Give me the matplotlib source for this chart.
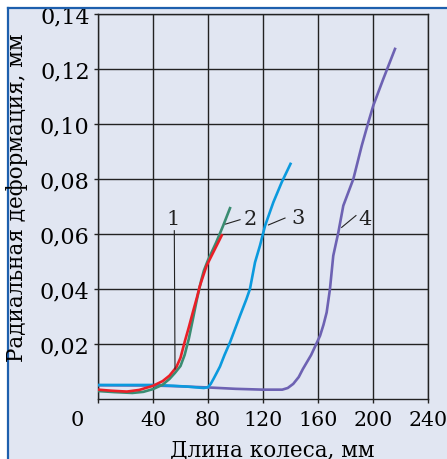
import matplotlib
matplotlib.use("Agg")
import matplotlib.pyplot as plt
from matplotlib.lines import Line2D

plt.rcParams['font.family'] = ['DejaVu Serif']

# curve 1 (red)
x1 = [0, 10, 21, 30, 40, 47, 52, 57, 60, 63, 66, 69, 72, 74, 77, 79, 83, 87, 90]
y1 = [0.0034, 0.0030, 0.0027, 0.0033, 0.0048, 0.0065, 0.0085, 0.0116, 0.0150, 0.0207, 0.0260,
      0.0316, 0.0370, 0.0410, 0.0455, 0.0485, 0.0525, 0.0565, 0.0595]
# curve 2 (green)
x2 = [0, 12, 25, 33, 40, 47, 52, 56, 60, 63, 66, 69, 72, 75, 77, 80, 86, 91, 96]
y2 = [0.0029, 0.0025, 0.0022, 0.0026, 0.0036, 0.0052, 0.0073, 0.0095, 0.0120, 0.0160, 0.0218,
      0.0290, 0.0364, 0.0430, 0.0467, 0.0505, 0.0570, 0.0630, 0.0694]
# curve 3 (blue)
x3 = [0, 20, 40, 55, 65, 72, 77, 80, 82, 84, 86, 88.7, 92, 96, 103.3, 108, 110.5, 114.2, 117.8,
      121.5, 127.5, 133.6, 140]
y3 = [0.0051, 0.0051, 0.0051, 0.0048, 0.0045, 0.0042, 0.0040, 0.0043, 0.0055, 0.0073, 0.0092,
      0.0118, 0.0160, 0.0206, 0.0303, 0.0364, 0.0400, 0.0497, 0.0558, 0.0630, 0.0715, 0.0788,
      0.0855]
# curve 4 (purple)
x4 = [0, 40, 60, 80, 100, 120, 134, 138, 142, 146, 149, 155, 161.5, 164, 166.3, 168.7, 171.1,
      174.8, 178.4, 185.7, 191.8, 196.6, 200.2, 207.5, 216]
y4 = [0.0050, 0.0049, 0.0046, 0.0042, 0.0037, 0.0034, 0.0034, 0.0040, 0.0055, 0.0080, 0.0109,
      0.0160, 0.0230, 0.0270, 0.0315, 0.0400, 0.0521, 0.0606, 0.0703, 0.0800, 0.0921, 0.1006,
      0.1067, 0.1164, 0.1273]

curve_labels = ['1', '2', '3', '4']
label_pos = [(54.5, 0.0655), (110.5, 0.0655), (145.5, 0.0660), (194, 0.0655)]
leaders = [((55.5, 56), (0.0612, 0.0109)),
           ((103.3, 92.8), (0.0652, 0.0636)),
           ((136, 124), (0.0658, 0.0633)),
           ((187.6, 177.2), (0.0667, 0.0624))]

xticks = [0, 40, 80, 120, 160, 200, 240]
yticks = [0.02, 0.04, 0.06, 0.08, 0.10, 0.12, 0.14]
ytick_labels = ['0,02', '0,04', '0,06', '0,08', '0,10', '0,12', '0,14']

bg = '#e1e6f2'
fig = plt.figure(figsize=(4.47, 4.60), dpi=100, facecolor=bg)

# white strips and blue frame line (top and left)
fig.patches.append(plt.Rectangle((0, 0.985), 1, 0.015, transform=fig.transFigure, color='white', zorder=0))
fig.patches.append(plt.Rectangle((0, 0), 0.0157, 1, transform=fig.transFigure, color='white', zorder=0))
fig.lines.append(Line2D([0.0180, 1], [0.9815, 0.9815], transform=fig.transFigure, color='#1d5fad', lw=1.6))
fig.lines.append(Line2D([0.0180, 0.0180], [0, 0.9815], transform=fig.transFigure, color='#1d5fad', lw=1.6))

ax = fig.add_axes([98 / 447, 60 / 460, 330 / 447, 385 / 460])
ax.set_facecolor(bg)

ax.plot(x4, y4, color='#6d62b3', lw=1.9, zorder=3)
ax.plot(x3, y3, color='#0b9ade', lw=1.9, zorder=4)
ax.plot(x2, y2, color='#3a8c72', lw=1.9, zorder=5)
ax.plot(x1, y1, color='#ea1f27', lw=1.9, zorder=6)

for t, (lx, ly), (lxs, lys) in zip(curve_labels, label_pos, leaders):
    ax.text(lx, ly, t, fontsize=15, ha='center', va='center', color='#222222', zorder=7)
    ax.plot(lxs, lys, color='#222222', lw=0.8, zorder=7)

ax.set_xlim(0, 240)
ax.set_ylim(0, 0.14)
ax.set_xticks(xticks)
ax.set_xticklabels([''] + [str(v) for v in xticks[1:]])
ax.set_yticks(yticks)
ax.set_yticklabels(ytick_labels)
ax.grid(True, color='#222222', lw=1.0)
ax.set_axisbelow(True)
for s in ax.spines.values():
    s.set_color('#222222')
    s.set_linewidth(1.0)
ax.tick_params(direction='out', length=3, width=1.0, color='#222222', labelsize=16, pad=3)
ax.tick_params(axis='x', pad=5, labelsize=14.8)

ax.text(-15, -0.0075, '0', fontsize=15, ha='center', va='center', clip_on=False)
fig.text(272 / 447, 10 / 460, 'Длина колеса, мм', fontsize=15.5, ha='center', va='center')
fig.text(17 / 447, 262 / 460, 'Радиальная деформация, мм', fontsize=15.5, ha='center', va='center',
         rotation=90)

fig.savefig('out.png', dpi=100, facecolor=bg)
